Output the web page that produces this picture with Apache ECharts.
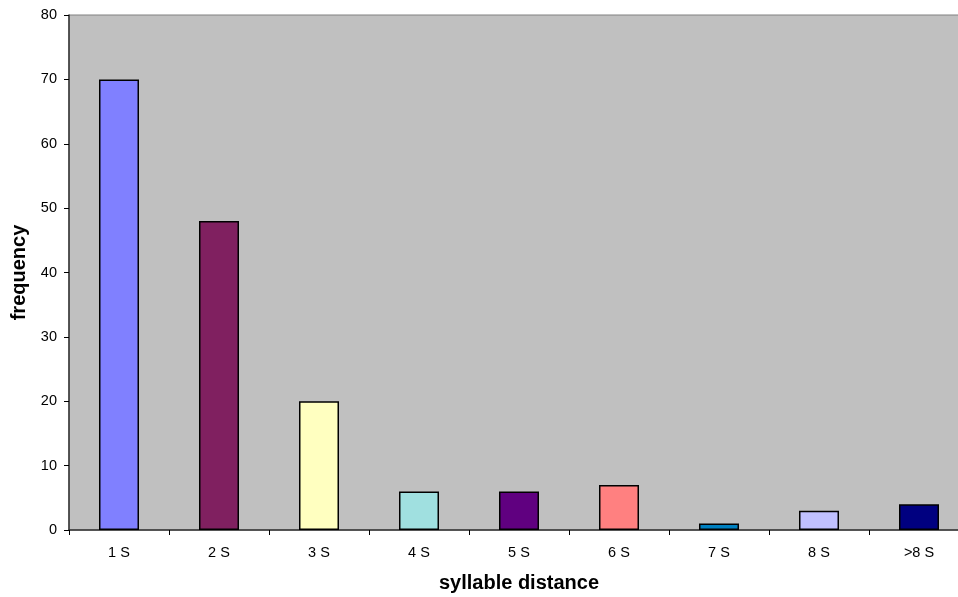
<!DOCTYPE html>
<html><head><meta charset="utf-8">
<script src="https://cdn.jsdelivr.net/npm/echarts@6/dist/echarts.min.js"></script>
<style>html,body{margin:0;padding:0;background:#fff}#c{width:958px;height:597px}</style>
</head><body><div id="c"></div>
<script>
const categories = ['1 S','2 S','3 S','4 S','5 S','6 S','7 S','8 S','>8 S'];
const values = [70, 48, 20, 6, 6, 7, 1, 3, 4];
const colors = ['#8080FF','#802060','#FFFFC0','#A0E0E0','#600080','#FF8080','#0080C0','#C0C0FF','#000080'];
const yTicks = {min: 0, max: 80, interval: 10};

const chart = echarts.init(document.getElementById('c'), null, {renderer: 'canvas'});
chart.setOption({
  animation: false,
  backgroundColor: '#ffffff',
  grid: {left: 69, top: 15, right: -11, bottom: 67, containLabel: false, outerBoundsMode: 'none',
         show: true, backgroundColor: '#C0C0C0', borderColor: '#808080', borderWidth: 1},
  xAxis: {
    type: 'category', data: categories,
    name: 'syllable distance', nameLocation: 'middle', nameGap: 43,
    nameTextStyle: {fontFamily: 'Liberation Sans, Arial', fontWeight: 'bold', fontSize: 20, color: '#000'},
    axisLine: {lineStyle: {color: '#333', width: 1.5}},
    axisTick: {show: true, length: 5, lineStyle: {color: '#000'}},
    axisLabel: {fontFamily: 'Liberation Sans, Arial', fontSize: 14.5, color: '#000', margin: 15}
  },
  yAxis: {
    type: 'value', min: yTicks.min, max: yTicks.max, interval: yTicks.interval,
    name: 'frequency', nameLocation: 'middle', nameGap: 38, nameRotate: 90,
    nameTextStyle: {fontFamily: 'Liberation Sans, Arial', fontWeight: 'bold', fontSize: 20, color: '#000'},
    axisLine: {show: true, lineStyle: {color: '#333', width: 1.5}},
    axisTick: {show: true, length: 5, lineStyle: {color: '#000'}},
    splitLine: {show: false},
    axisLabel: {fontFamily: 'Liberation Sans, Arial', fontSize: 14.5, color: '#000', margin: 12}
  },
  series: [{
    type: 'bar', data: values.map((v, i) => ({value: v, itemStyle: {color: colors[i]}})),
    barWidth: 40,
    itemStyle: {borderColor: '#000', borderWidth: 1.5}
  }]
});
</script></body></html>
